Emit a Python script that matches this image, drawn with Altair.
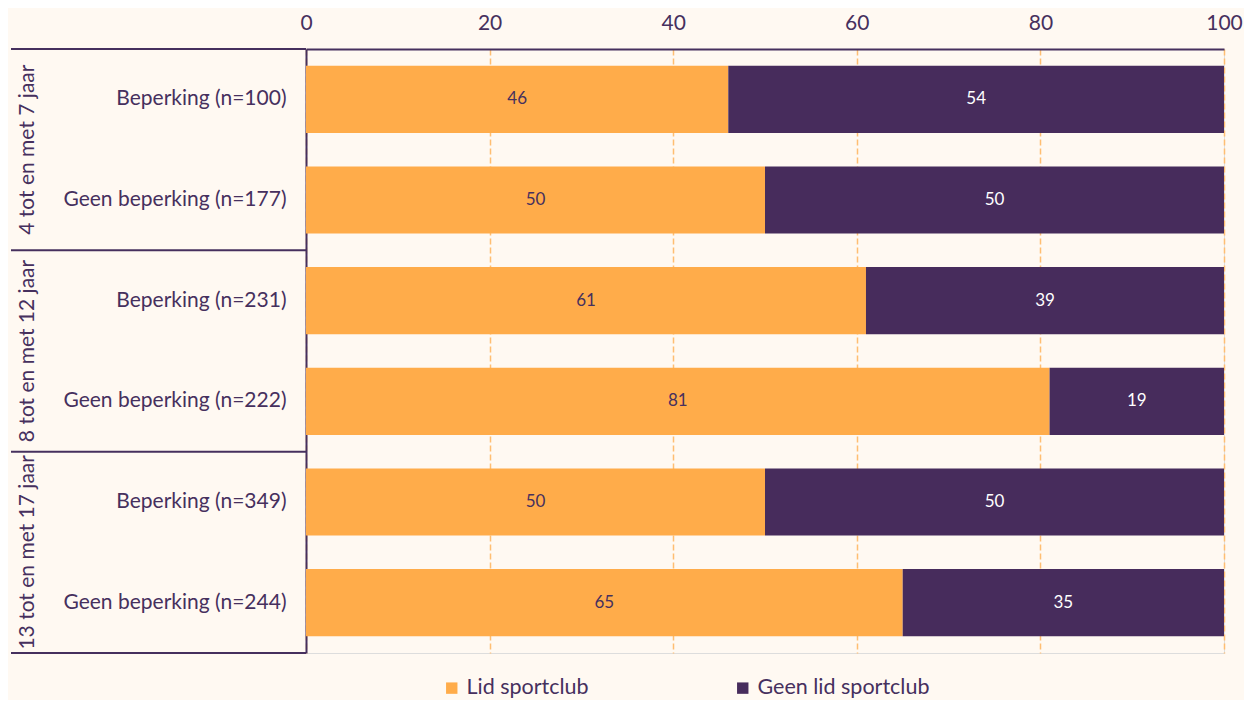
import altair as alt
import pandas as pd

groups = ["4 tot en met 7 jaar", "8 tot en met 12 jaar", "13 tot en met 17 jaar"]
rows = ["Beperking (n=100)", "Geen beperking (n=177)",
        "Beperking (n=231)", "Geen beperking (n=222)",
        "Beperking (n=349)", "Geen beperking (n=244)"]
lid = [46, 50, 61, 81, 50, 65]
geen_lid = [54, 50, 39, 19, 50, 35]
series = ["Lid sportclub", "Geen lid sportclub"]
x_ticks = [0, 20, 40, 60, 80, 100]

ORANGE = "#FFAC4A"
PURPLE = "#472C5C"
TEXT = "#46305E"
BG = "#FFF9F2"
GRID = "#FFBE72"
FONT = "Lato"
FS = 21

records = []
for i, r in enumerate(rows):
    records.append({"label": r, "serie": series[0], "value": lid[i], "order": 0})
    records.append({"label": r, "serie": series[1], "value": geen_lid[i], "order": 1})
df = pd.DataFrame(records)

sep_df = pd.DataFrame({"label": [rows[0], rows[2], rows[4]]})
bottom_df = pd.DataFrame({"label": [rows[5]]})
grp_df = pd.DataFrame({"label": [rows[1], rows[3], rows[5]], "group": groups})

base = alt.Chart(df).transform_stack(
    stack="value", groupby=["label"], as_=["x0", "x1"],
    sort=[alt.SortField("order", order="ascending")]
)

bars = base.mark_bar(height={"band": 0.667}).encode(
    y=alt.Y("label:N",
            scale=alt.Scale(domain=rows, paddingInner=0, paddingOuter=0),
            axis=alt.Axis(title=None, ticks=False, tickSize=0, labelPadding=20,
                          labelFontSize=FS, labelColor=TEXT, labelFont=FONT,
                          domainColor=TEXT, domainWidth=2, grid=False, labelLimit=400)),
    x=alt.X("x0:Q", scale=alt.Scale(domain=[0, 100]),
            axis=alt.Axis(orient="top", values=x_ticks, title=None, ticks=False,
                          tickSize=0, labelPadding=16, labelFontSize=FS,
                          labelFlush=False,
                          labelColor=TEXT, labelFont=FONT, domainColor=TEXT,
                          domainWidth=2, grid=True, gridColor=GRID,
                          gridDash=[6, 3], gridWidth=1.5)),
    x2="x1:Q",
    color=alt.Color("serie:N",
                    scale=alt.Scale(domain=series, range=[ORANGE, PURPLE]),
                    legend=alt.Legend(orient="none", legendX=135, legendY=628,
                                      direction="horizontal", title=None,
                                      symbolType="square", symbolSize=130,
                                      symbolStrokeWidth=0, symbolOpacity=1,
                                      labelFontSize=21.5, labelColor=TEXT,
                                      labelFont=FONT, columnPadding=143,
                                      labelOffset=4, labelLimit=400)),
)

values_txt = base.transform_calculate(mid="(datum.x0 + datum.x1) / 2").mark_text(
    fontSize=17, font=FONT
).encode(
    x="mid:Q",
    y="label:N",
    text="value:Q",
    color=alt.condition(alt.datum.serie == series[0], alt.value(TEXT), alt.value("white")),
)

sep = alt.Chart(sep_df).mark_rule(color=TEXT, strokeWidth=2).encode(
    y=alt.Y("label:N", bandPosition=0),
    x=alt.value(-295), x2=alt.value(0),
)
bottom = alt.Chart(bottom_df).mark_rule(color=TEXT, strokeWidth=2).encode(
    y=alt.Y("label:N", bandPosition=1),
    x=alt.value(-295), x2=alt.value(0),
)
grp = alt.Chart(grp_df).mark_text(
    angle=270, fontSize=FS, font=FONT, color=TEXT, align="center", baseline="middle"
).encode(
    y=alt.Y("label:N", bandPosition=0),
    x=alt.value(-278),
    text="group:N",
)

chart = alt.layer(bars, values_txt, sep, bottom, grp).properties(
    width=918, height=604,
    autosize=alt.AutoSizeParams(type="none"),
    padding={"left": 298, "top": 41, "right": 20, "bottom": 47},
    background=BG,
).configure_view(stroke=None).configure(font=FONT)

chart.save("out.html", embed_options={"renderer": "svg", "actions": False})
